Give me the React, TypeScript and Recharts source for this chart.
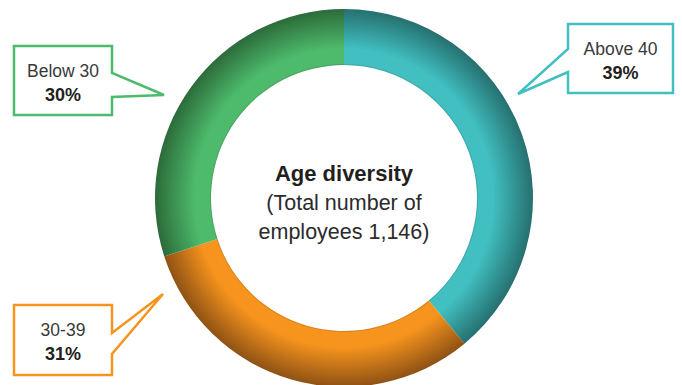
import { PieChart, Pie, Cell, Label } from "recharts";

// slices, clockwise from 12 o'clock
const groups = ["Above 40", "30-39", "Below 30"];
const shares = [39, 31, 30];
const shareLabels = ["39%", "31%", "30%"];
const totalEmployees = "1,146";

const BASE = ["#41bfc1", "#f7941d", "#4dbb6b"];
const DARK = ["#26706f", "#8f5214", "#2c6b3a"];

const CX = 344;
const CY = 198;
const OUTER = 189;
const INNER = 133;

// callout boxes, relative to the pie centre
const boxes = [
  { x1: 224, y1: -174, x2: 329, y2: -105, side: "left", t1: -149, t2: -126, tip: [174, -104] },
  { x1: -330, y1: 107, x2: -232, y2: 177, side: "right", t1: 135, t2: 156, tip: [-181, 96] },
  { x1: -330, y1: -152, x2: -232, y2: -83, side: "right", t1: -125, t2: -101, tip: [-180, -103] },
];

const data = groups.map((g, i) => ({ name: g, value: shares[i], pct: shareLabels[i] }));

const renderCallout = (props: any) => {
  const { index } = props;
  const b = boxes[index];
  const c = BASE[index];
  const L = CX + b.x1;
  const R = CX + b.x2;
  const T = CY + b.y1;
  const B = CY + b.y2;
  const tx = CX + b.tip[0];
  const ty = CY + b.tip[1];
  let d = "";
  if (b.side === "left") {
    d = `M${L},${T} L${R},${T} L${R},${B} L${L},${B} L${L},${CY + b.t2} L${tx},${ty} L${L},${CY + b.t1} Z`;
  } else {
    d = `M${L},${T} L${R},${T} L${R},${CY + b.t1} L${tx},${ty} L${R},${CY + b.t2} L${R},${B} L${L},${B} Z`;
  }
  const mx = (L + R) / 2;
  return (
    <g key={`callout-${index}`}>
      <path d={d} fill="#fff" stroke={c} strokeWidth={2.5} strokeLinejoin="miter" />
      <text x={mx} y={T + 31} textAnchor="middle" fontSize={17.5} fill="#3a3a3a" fontFamily="Liberation Sans, Arial, sans-serif">
        {data[index].name}
      </text>
      <text x={mx} y={T + 55} textAnchor="middle" fontSize={18} fontWeight="bold" fill="#231f20" fontFamily="Liberation Sans, Arial, sans-serif">
        {data[index].pct}
      </text>
    </g>
  );
};

const CenterText = () => (
  <g fontFamily="Liberation Sans, Arial, sans-serif" textAnchor="middle">
    <text x={CX} y={181} fontSize={22} fontWeight="bold" fill="#231f20">Age diversity</text>
    <text x={CX} y={210} fontSize={21.5} fill="#2b2b2b">(Total number of</text>
    <text x={CX} y={239} fontSize={21.5} fill="#2b2b2b">{`employees ${totalEmployees})`}</text>
  </g>
);

export default function App() {
  return (
    <div style={{ position: "absolute", left: 0, top: 0, width: 682, height: 385, background: "#fff" }}>
      <PieChart width={682} height={385} margin={{ top: 0, right: 0, bottom: 0, left: 0 }}>
        <defs>
          {BASE.map((c, i) => (
            <radialGradient key={i} id={`ring-${i}`} gradientUnits="userSpaceOnUse" cx={CX} cy={CY} r={OUTER}>
              <stop offset="0.69" stopColor={DARK[i]} stopOpacity={1} />
              <stop offset="0.712" stopColor={c} />
              <stop offset="0.79" stopColor={c} />
              <stop offset="1" stopColor={DARK[i]} />
            </radialGradient>
          ))}
        </defs>
        <Pie
          data={data}
          dataKey="value"
          nameKey="name"
          cx={CX}
          cy={CY}
          innerRadius={INNER}
          outerRadius={OUTER}
          startAngle={90}
          endAngle={-270}
          stroke="none"
          label={renderCallout}
          labelLine={false}
          isAnimationActive={false}
        >
          {data.map((_, i) => (
            <Cell key={`cell-${i}`} fill={`url(#ring-${i})`} />
          ))}
          <Label position="center" content={() => <CenterText />} />
        </Pie>
      </PieChart>
    </div>
  );
}
